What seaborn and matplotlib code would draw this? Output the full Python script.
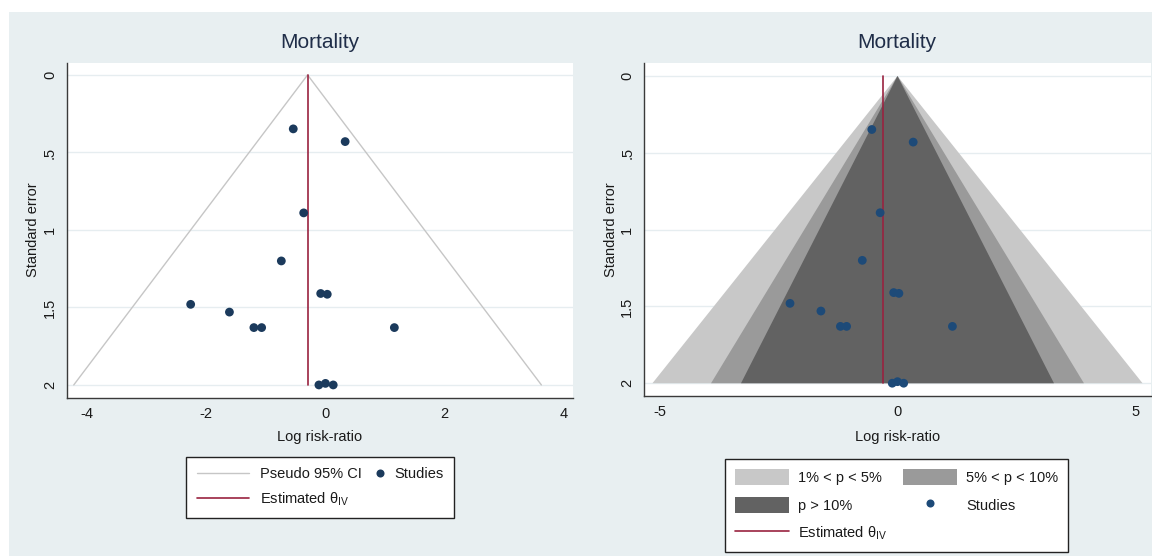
import numpy as np
import pandas as pd
import matplotlib
matplotlib.use("Agg")
import matplotlib.pyplot as plt
import seaborn as sns
from matplotlib.patches import Rectangle, Patch
from matplotlib.lines import Line2D
from matplotlib.legend_handler import HandlerLine2DCompound

# ---------------- data ----------------
log_rr = [-0.54, 0.33, -0.365, -0.74, -0.08, 0.03, -2.26, -1.61, -1.20, -1.07, 1.155, -0.11, 0.00, 0.13]
std_err = [0.348, 0.43, 0.89, 1.20, 1.41, 1.415, 1.48, 1.53, 1.63, 1.63, 1.63, 2.0, 1.99, 2.0]
theta_iv = -0.30
se_max = 2.0
z_pseudo = 1.96
z_levels = [2.576, 1.96, 1.645]
contour_labels = ["1% < p < 5%", "5% < p < 10%", "p > 10%"]
left_xticks = [-4, -2, 0, 2, 4]
right_xticks = [-5, 0, 5]
yticks = [0, 0.5, 1, 1.5, 2]
ytick_labels = ["0", ".5", "1", "1.5", "2"]
title = "Mortality"
xlabel = "Log risk-ratio"
ylabel = "Standard error"

df = pd.DataFrame({"log_rr": log_rr, "se": std_err})

# ---------------- style ----------------
sns.set_style("white")
plt.rcParams['font.family'] = ['Liberation Sans', 'DejaVu Sans']
plt.rcParams['mathtext.fontset'] = 'custom'
plt.rcParams['mathtext.rm'] = 'Liberation Sans'
plt.rcParams['mathtext.it'] = 'Liberation Sans:italic'

BG = '#e8eff1'
GRID = '#e6edf0'
AXC = '#3a3a3a'
TXT = '#1a1a1a'
TITLE_C = '#1f2d48'
CI_C = '#c6c6c6'
THETA_C = '#992340'
DOT_L = '#1b3a5c'
DOT_R = '#1d4a78'
SHADES = ['#c8c8c8', '#9a9a9a', '#626262']
FS = 10.5

W, H = 1152, 556
fig = plt.figure(figsize=(W / 100, H / 100), dpi=100)
fig.patch.set_facecolor('white')
fig.patches.append(Rectangle((9 / W, 0), 1 - 9 / W, 1 - 12 / H, transform=fig.transFigure,
                             facecolor=BG, edgecolor='none', zorder=-10))


def px_rect(x0, x1, ytop, ybot):
    return [x0 / W, 1 - ybot / H, (x1 - x0) / W, (ybot - ytop) / H]


axL = fig.add_axes(px_rect(66.6, 573, 63, 397.5))
axR = fig.add_axes(px_rect(644, 1150.5, 63, 395.5))


def style_axis(ax, xticks, xlim, ylim):
    ax.set_facecolor('white')
    ax.set_xlim(*xlim)
    ax.set_ylim(*ylim)
    for s in ['top', 'right']:
        ax.spines[s].set_visible(False)
    for s in ['left', 'bottom']:
        ax.spines[s].set_color(AXC)
        ax.spines[s].set_linewidth(1.0)
    ax.set_xticks(xticks)
    ax.set_xticklabels([str(t) for t in xticks])
    ax.set_yticks(yticks)
    ax.set_yticklabels(ytick_labels, rotation=90, va='center')
    ax.tick_params(direction='out', length=4, width=1, color=AXC, labelsize=FS,
                   labelcolor=TXT, pad=3)
    ax.yaxis.grid(True, color=GRID, lw=1)
    ax.xaxis.grid(False)
    ax.set_axisbelow(True)
    ax.set_xlabel('')
    ax.set_ylabel('')


# ---------------- left panel ----------------
style_axis(axL, left_xticks, (-4.34, 4.15), (2.081, -0.077))
ci_x = [theta_iv - z_pseudo * se_max, theta_iv, theta_iv + z_pseudo * se_max]
ci_y = [se_max, 0, se_max]
axL.plot(ci_x, ci_y, color=CI_C, lw=1.0, zorder=2)
axL.plot([theta_iv, theta_iv], [0, se_max], color=THETA_C, lw=1.2, zorder=3)
sns.scatterplot(data=df, x="log_rr", y="se", ax=axL, color=DOT_L, s=40,
                edgecolor='none', zorder=4, legend=False)
axL.set_xlabel('')
axL.set_ylabel('')

# ---------------- right panel ----------------
style_axis(axR, right_xticks, (-5.33, 5.32), (2.08, -0.085))
for z, c in zip(z_levels, SHADES):
    axR.fill([-z * se_max, 0, z * se_max], [se_max, 0, se_max], color=c, lw=0, zorder=1)
axR.plot([theta_iv, theta_iv], [0, se_max], color=THETA_C, lw=1.2, zorder=3)
sns.scatterplot(data=df, x="log_rr", y="se", ax=axR, color=DOT_R, s=40,
                edgecolor='none', zorder=4, legend=False)
axR.set_xlabel('')
axR.set_ylabel('')

# ---------------- texts ----------------
for cx, ylx in [(319.8, 33), (897.3, 611)]:
    fig.text(cx / W, 1 - 43 / H, title, ha='center', va='center', fontsize=15, color=TITLE_C)
    fig.text(cx / W, 1 - 437 / H, xlabel, ha='center', va='center', fontsize=FS, color=TXT)
    fig.text(ylx / W, 1 - 230 / H, ylabel, ha='center', va='center', fontsize=FS,
             color=TXT, rotation=90)

theta_label = "Estimated θ$_{\\mathrm{IV}}$"


class RightMarkerHandler(HandlerLine2DCompound):
    def get_xdata(self, legend, xdescent, ydescent, width, height, fontsize):
        xdata = [-xdescent, -xdescent + width]
        return xdata, [-xdescent + width - 0.25 * fontsize]


# left legend
h_ci = Line2D([], [], color=CI_C, lw=1.0, label="Pseudo 95% CI")
h_th = Line2D([], [], color=THETA_C, lw=1.2, label=theta_label)
h_st = Line2D([], [], color=DOT_L, marker='o', ls='', ms=5.8, markeredgewidth=0, label="Studies")
legL = fig.legend(handles=[h_ci, h_th, h_st], ncol=2, loc='upper left',
                  bbox_to_anchor=(186 / W, 1 - 457 / H), bbox_transform=fig.transFigure,
                  borderaxespad=0, fontsize=FS, frameon=True, fancybox=False, framealpha=1,
                  edgecolor='#222222', handlelength=3.6, handletextpad=0.75,
                  columnspacing=-2.1, labelspacing=0.62, borderpad=0.72,
                  handler_map={h_st: RightMarkerHandler(numpoints=1)})
legL.get_frame().set_linewidth(1.0)
for t in legL.get_texts():
    t.set_color(TXT)

# right legend
p1 = Patch(facecolor=SHADES[0], edgecolor='none', label=contour_labels[0])
p2 = Patch(facecolor=SHADES[1], edgecolor='none', label=contour_labels[1])
p3 = Patch(facecolor=SHADES[2], edgecolor='none', label=contour_labels[2])
h_th2 = Line2D([], [], color=THETA_C, lw=1.2, label=theta_label)
h_st2 = Line2D([], [], color=DOT_R, marker='o', ls='', ms=5.8, markeredgewidth=0, label="Studies")
legR = fig.legend(handles=[p1, p3, h_th2, p2, h_st2], ncol=2, loc='upper left',
                  bbox_to_anchor=(725 / W, 1 - 459 / H), bbox_transform=fig.transFigure,
                  borderaxespad=0, fontsize=FS, frameon=True, fancybox=False, framealpha=1,
                  edgecolor='#222222', handlelength=3.7, handleheight=1.3, handletextpad=0.62,
                  columnspacing=1.1, labelspacing=0.82, borderpad=0.68)
legR.get_frame().set_linewidth(1.0)
for t in legR.get_texts():
    t.set_color(TXT)

fig.savefig("out.png", dpi=100)
